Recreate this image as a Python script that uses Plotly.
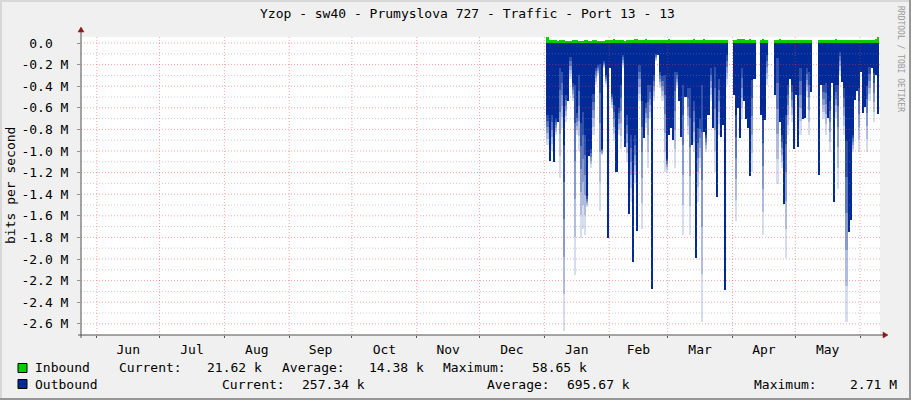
import plotly.graph_objects as go
import pandas as pd

# ---------------- data ----------------
TITLE = "Yzop - sw40 - Prumyslova 727 - Traffic - Port 13 - 13"
Y_TITLE = "bits per second"
SIDE_TEXT = "RRDTOOL / TOBI OETIKER"

START_DAY = "2013-01-02"          # first daily sample
X_RANGE = ["2012-05-24 10:00", "2013-06-10 13:00"]

# Outbound (drawn negative), solid part depth in Mbit/s, one value per day
outbound_dark_M = [
    0.67, 1.09, 0.67, 1.10, 0.70, 0.73, 0.23, 0.27, 0.94, 0.48,
    0.54, 0.13, 0.37, 0.39, 0.65, 0.30, 0.74, 0.64, 0.85, 1.42,
    1.05, 0.98, 0.47, 0.23, 0.20, 0.19, 0.98, 0.17, 0.30, 1.81,
    0.23, 0.47, 0.57, 1.19, 0.60, 0.39, 0.11, 0.96, 0.67, 1.58,
    0.85, 2.03, 0.85, 1.74, 0.20, 0.54, 0.88, 0.56, 0.39, 0.39,
    2.28, 0.30, 0.10, 0.11, 0.27, 0.31, 0.30, 1.07, 0.85, 0.79,
    0.90, 0.27, 0.27, 0.54, 0.87, 0.39, 0.50, 0.42, 0.42, 0.94,
    0.54, 1.99, 0.79, 0.70, 0.39, 0.82, 0.85, 0.67, 0.23, 0.79,
    0.22, 1.43, 0.33, 0.87, 0.76, 2.29, 0.11, None, None, 0.48,
    0.67, 0.60, 0.88, 0.23, 0.54, 0.70, 0.79, 1.23, 0.34, 0.33,
    None, None, 0.67, 0.71, 0.71, 0.11, None, None, None, 0.48,
    0.14, 0.73, 0.85, 1.49, 0.67, 0.39, 0.33, 0.39, 0.98, 0.48,
    0.96, 0.23, 0.70, 0.69, 0.23, 0.27, 0.45, None, None, None,
    1.22, 0.39, 0.39, 0.37, 0.69, 0.54, 0.37, 1.47, 0.39, 0.39,
    0.08, 0.36, 0.42, 0.91, 1.75, 1.64, 0.85, 0.53, 0.44, 0.42,
    0.27, 0.65, 0.59, 0.40, 0.22, 0.23, 0.28, 0.30, 0.66,
]

# Outbound peak depth (the faded tail below the solid part), Mbit/s; 0 = no tail
outbound_peak_M = [
    0.94, 0, 1.00, 0, 0.85, 0, 1.25, 0.79, 2.67, 0.73,
    0, 0.33, 0.54, 2.15, 0.85, 1.00, 1.81, 1.72, 1.78, 1.52,
    0, 1.16, 0.85, 0.39, 0.30, 1.56, 1.04, 0.23, 0.39, 0,
    0, 0.60, 0.91, 0, 0.85, 0.98, 0.23, 0, 1.10, 0,
    1.47, 0, 1.31, 0, 0.54, 1.72, 0, 0.79, 1.16, 0.70,
    0, 0.54, 0.17, 0, 0.42, 0.54, 1.19, 1.19, 0, 0,
    0, 1.16, 0.42, 0, 0, 1.78, 0, 0.85, 1.78, 0,
    1.01, 0, 1.47, 1.16, 2.58, 0, 1.01, 0, 0.54, 0,
    1.19, 0, 0.85, 0, 0, 0, 0.39, None, None, 0,
    1.65, 0, 0, 0.70, 0, 0, 0, 0, 1.19, 0,
    None, None, 0, 1.78, 0, 0.39, None, None, None, 0,
    1.31, 0, 1.16, 0, 1.99, 0.85, 0, 0.73, 0, 0,
    0, 0.85, 0, 0, 0.50, 0.85, 0, None, None, None,
    0, 0, 0.70, 0.85, 0, 1.01, 0, 0, 0.70, 1.35,
    0.30, 0, 0.85, 2.58, 0, 0, 1.01, 0, 0, 1.01,
    0, 0, 0, 1.01, 0.54, 0, 0.73, 0, 0,
]

# Inbound, kbit/s, one value per day
inbound_k = [
    55, 30, 25, 28, 24, 22, 26, 30, 24, 22,
    20, 22, 25, 28, 24, 20, 18, 22, 26, 24,
    22, 20, 24, 28, 22, 20, 18, 20, 24, 28,
    30, 26, 34, 28, 24, 30, 26, 22, 24, 28,
    26, 30, 34, 38, 30, 28, 32, 36, 30, 28,
    26, 30, 28, 32, 30, 26, 24, 28, 34, 30,
    32, 28, 26, 30, 28, 24, 26, 30, 28, 32,
    34, 30, 28, 26, 30, 34, 30, 28, 26, 30,
    28, 32, 30, 26, 24, 28, 26, None, None, 28,
    32, 36, 40, 38, 34, 30, 32, 36, 30, 28,
    None, None, 30, 34, 28, 26, None, None, None, 30,
    28, 34, 30, 26, 28, 32, 30, 28, 26, 30,
    28, 26, 30, 28, 32, 30, 26, None, None, None,
    30, 28, 26, 30, 32, 28, 26, 30, 34, 28,
    26, 24, 28, 30, 32, 28, 26, 30, 28, 26,
    24, 28, 30, 26, 28, 30, 32, 36, 58,
]

y_tick_values_M = [0.0, -0.2, -0.4, -0.6, -0.8, -1.0, -1.2, -1.4,
                   -1.6, -1.8, -2.0, -2.2, -2.4, -2.6]
y_tick_labels = ["0.0\u00a0\u00a0", "-0.2 M", "-0.4 M", "-0.6 M", "-0.8 M", "-1.0 M",
                 "-1.2 M", "-1.4 M", "-1.6 M", "-1.8 M", "-2.0 M", "-2.2 M",
                 "-2.4 M", "-2.6 M"]
y_minor_values_M = [-0.1, -0.3, -0.5, -0.7, -0.9, -1.1, -1.3, -1.5,
                    -1.7, -1.9, -2.1, -2.3, -2.5]
Y_RANGE_M = [-2.7037, 0.0556]

series_names = ["Inbound", "Outbound"]
series_colors = ["#00CF00", "#002A97"]
legend_inbound = [("Current:", 117), ("21.62 k", 205), ("Average:", 280),
                  ("14.38 k", 367), ("Maximum:", 441), ("58.65 k", 530)]
legend_outbound = [("Current:", 220), ("257.34 k", 300), ("Average:", 485),
                   ("695.67 k", 565), ("Maximum:", 752), ("2.71 M", 848)]

# ---------------- figure ----------------
W, H = 911, 400
L, R, T, B = 81, 880, 37, 335      # plot area in pixels
FONT = "DejaVu Sans Mono"


def fx(p):
    return (p - L) / (R - L)


def fy(p):
    return (B - p) / (B - T)


M = 1e6
days = pd.date_range(pd.Timestamp(START_DAY) + pd.Timedelta(hours=12),
                     periods=len(outbound_dark_M), freq="D")
DAY_MS = 86400000

fig = go.Figure()

# faded tails (gradient approximated by stacked segments)
n_seg = 5
alphas = [0.82, 0.64, 0.47, 0.31, 0.16]
for k in range(n_seg):
    bases, lens = [], []
    for d, p in zip(outbound_dark_M, outbound_peak_M):
        if d is None or p is None or p <= d:
            bases.append(None)
            lens.append(None)
        else:
            seg = (p - d) / n_seg
            bases.append(-(d + seg * k) * M)
            lens.append(-seg * M)
    fig.add_trace(go.Bar(x=days, y=lens, base=bases, width=DAY_MS,
                         marker=dict(color=f"rgba(0,42,151,{alphas[k]})",
                                     line=dict(width=0)),
                         showlegend=False, hoverinfo="skip"))

# solid outbound
fig.add_trace(go.Bar(x=days,
                     y=[None if v is None else -v * M for v in outbound_dark_M],
                     width=DAY_MS, name=series_names[1],
                     marker=dict(color=series_colors[1], line=dict(width=0)),
                     showlegend=False))
# inbound
fig.add_trace(go.Bar(x=days,
                     y=[None if v is None else v * 1e3 for v in inbound_k],
                     width=DAY_MS, name=series_names[0],
                     marker=dict(color=series_colors[0], line=dict(width=0)),
                     showlegend=False))

shapes = []
GRID_MAJ = "rgba(235,60,60,0.45)"
GRID_MIN = "rgba(140,140,140,0.45)"
DOT = "1px,2px"
# grid drawn above the data, like rrdtool
for v in y_minor_values_M:
    shapes.append(dict(type="line", xref="paper", yref="y", x0=0, x1=1,
                       y0=v * M, y1=v * M, layer="above",
                       line=dict(color=GRID_MIN, width=1, dash=DOT)))
for v in y_tick_values_M:
    shapes.append(dict(type="line", xref="paper", yref="y", x0=0, x1=1,
                       y0=v * M, y1=v * M, layer="above",
                       line=dict(color=GRID_MAJ, width=1, dash=DOT)))
for m in pd.date_range("2012-06-01", "2013-06-01", freq="MS"):
    shapes.append(dict(type="line", xref="x", yref="paper", x0=m, x1=m,
                       y0=0, y1=1, layer="above",
                       line=dict(color=GRID_MAJ, width=1, dash=DOT)))

AX = "#505050"
ARROW = "#8b1a1a"
# axis lines with overhang and arrows
shapes.append(dict(type="line", xref="paper", yref="paper", x0=fx(L), x1=fx(L),
                   y0=fy(B + 3), y1=fy(T - 5), line=dict(color=AX, width=1)))
shapes.append(dict(type="line", xref="paper", yref="paper", x0=fx(L - 3), x1=fx(R + 4),
                   y0=fy(B), y1=fy(B), line=dict(color=AX, width=1)))
shapes.append(dict(type="path", xref="paper", yref="paper",
                   path=f"M {fx(L-3)},{fy(T-5)} L {fx(L+3)},{fy(T-5)} L {fx(L)},{fy(T-10)} Z",
                   fillcolor=ARROW, line=dict(color=ARROW, width=0.5)))
shapes.append(dict(type="path", xref="paper", yref="paper",
                   path=f"M {fx(R+3)},{fy(B-3)} L {fx(R+3)},{fy(B+3)} L {fx(R+8)},{fy(B)} Z",
                   fillcolor=ARROW, line=dict(color=ARROW, width=0.5)))

# frame (3D look)
shapes.append(dict(type="rect", xref="paper", yref="paper",
                   x0=fx(W - 2), x1=fx(W), y0=fy(H), y1=fy(0),
                   fillcolor="#969696", line=dict(width=0), layer="below"))
shapes.append(dict(type="rect", xref="paper", yref="paper",
                   x0=fx(0), x1=fx(W), y0=fy(H), y1=fy(H - 2),
                   fillcolor="#969696", line=dict(width=0), layer="below"))
shapes.append(dict(type="rect", xref="paper", yref="paper",
                   x0=fx(0), x1=fx(2), y0=fy(H - 2), y1=fy(0),
                   fillcolor="#d8d8d8", line=dict(width=0), layer="below"))
shapes.append(dict(type="rect", xref="paper", yref="paper",
                   x0=fx(0), x1=fx(W - 2), y0=fy(2), y1=fy(0),
                   fillcolor="#d8d8d8", line=dict(width=0), layer="below"))

# legend colour boxes
for i, c in enumerate(series_colors):
    yc = 368 + 16 * i
    shapes.append(dict(type="rect", xref="paper", yref="paper",
                       x0=fx(18), x1=fx(27), y0=fy(yc + 4.5), y1=fy(yc - 4.5),
                       fillcolor=c, line=dict(color="#000000", width=1)))

ann = []
ann.append(dict(text=TITLE, x=fx(467), y=fy(14), xref="paper", yref="paper",
                showarrow=False, xanchor="center", yanchor="middle",
                font=dict(family=FONT, size=13, color="#000000")))
ann.append(dict(text=Y_TITLE, x=fx(10), y=fy(186), xref="paper", yref="paper",
                showarrow=False, textangle=-90, xanchor="center", yanchor="middle",
                font=dict(family=FONT, size=13, color="#000000")))
ann.append(dict(text=SIDE_TEXT, x=fx(901), y=fy(59), xref="paper", yref="paper",
                showarrow=False, textangle=90, xanchor="center", yanchor="middle",
                font=dict(family=FONT, size=8, color="#999999")))
for i, (name, row) in enumerate([(series_names[0], legend_inbound),
                                 (series_names[1], legend_outbound)]):
    yc = 368 + 16 * i
    ann.append(dict(text=name, x=fx(33), y=fy(yc), xref="paper", yref="paper",
                    showarrow=False, xanchor="left", yanchor="middle",
                    font=dict(family=FONT, size=13, color="#000000")))
    for txt, xp in row:
        ann.append(dict(text=txt, x=fx(xp), y=fy(yc), xref="paper", yref="paper",
                        showarrow=False, xanchor="left", yanchor="middle",
                        font=dict(family=FONT, size=13, color="#000000")))

fig.update_layout(
    width=W, height=H,
    margin=dict(l=L, r=W - R, t=T, b=H - B, pad=0),
    paper_bgcolor="#F0F0F0", plot_bgcolor="#FFFFFF",
    barmode="overlay", bargap=0, showlegend=False,
    shapes=shapes, annotations=ann,
    font=dict(family=FONT, size=13, color="#000000"),
    xaxis=dict(type="date", range=X_RANGE, dtick="M1", tick0="2012-06-01",
               ticklabelmode="period", tickformat="%b", showgrid=False,
               ticks="outside", ticklen=2, tickcolor=AX, zeroline=False,
               showline=False, tickfont=dict(family=FONT, size=13, color="#000000")),
    yaxis=dict(range=[Y_RANGE_M[0] * M, Y_RANGE_M[1] * M],
               tickmode="array", tickvals=[v * M for v in y_tick_values_M],
               ticktext=y_tick_labels, showgrid=False, zeroline=False,
               ticks="outside", ticklen=3, tickcolor="#909090", showline=False,
               ticklabelstandoff=6,
               tickfont=dict(family=FONT, size=13, color="#000000")),
)

fig.write_html("out.html",
               config={"displayModeBar": False},
               post_script="document.body.style.margin='0px';"
                           "document.body.style.padding='0px';")
